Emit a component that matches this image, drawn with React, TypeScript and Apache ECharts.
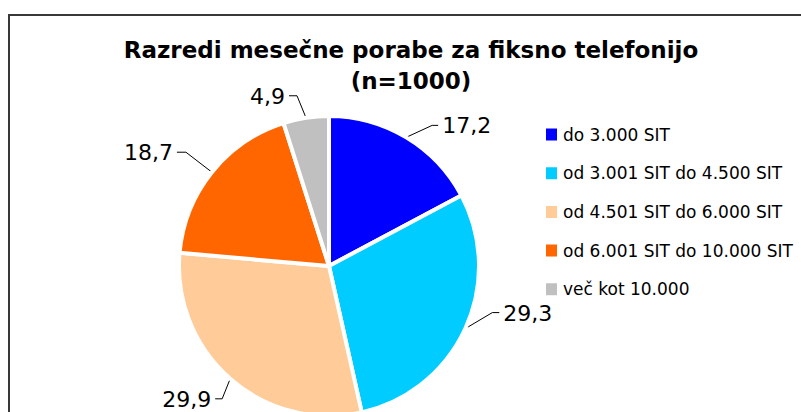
import React, { useEffect, useRef } from "react";
import * as echarts from "echarts";

const categories = [
  "do 3.000 SIT",
  "od 3.001 SIT do 4.500 SIT",
  "od 4.501 SIT do 6.000 SIT",
  "od 6.001 SIT do 10.000 SIT",
  "več kot 10.000",
];
const values = [17.2, 29.3, 29.9, 18.7, 4.9];
const colors = ["#0000FF", "#00CCFF", "#FFCC99", "#FF6600", "#C0C0C0"];
const titleLine1 = "Razredi mesečne porabe za fiksno telefonijo";
const titleLine2 = "(n=1000)";

// leader line layout per slice: [diagonal dx, diagonal dy, horizontal length]
const leaderLayout: [number, number, number][] = [
  [26, -12, 6],
  [27, -16, 7],
  [-8, 20, -7],
  [-26, -20, -9],
  [-9, -22, -8],
];
const labelGap = 4;

export default function App() {
  const ref = useRef<HTMLDivElement>(null);
  useEffect(() => {
    if (!ref.current) return;
    const chart = echarts.init(ref.current, undefined, { renderer: "svg" });
    chart.setOption({
      animation: false,
      backgroundColor: "#ffffff",
      title: {
        text: titleLine1 + "\n" + titleLine2,
        left: 411,
        textAlign: "center",
        top: 34,
        padding: 0,
        textStyle: {
          fontFamily: "'DejaVu Sans', Verdana, sans-serif",
          fontWeight: "bold",
          fontSize: 23,
          lineHeight: 31,
          color: "#000",
        },
      },
      graphic: [
        {
          type: "polyline",
          shape: { points: [[9, 412], [9, 15], [801, 15]] },
          style: { stroke: "#383838", lineWidth: 2, fill: "none" },
        },
      ],
      legend: {
        orient: "vertical",
        left: 544,
        top: 126,
        padding: 0,
        itemWidth: 13,
        itemHeight: 14,
        itemGap: 21.7,
        icon: "rect",
        textStyle: {
          fontFamily: "'DejaVu Sans', Verdana, sans-serif",
          fontSize: 17,
          color: "#000",
        },
        data: categories,
      },
      series: [
        {
          type: "pie",
          center: [329, 266],
          radius: 150,
          startAngle: 90,
          clockwise: true,
          color: colors,
          itemStyle: { borderColor: "#fff", borderWidth: 4 },
          label: {
            show: true,
            position: "outside",
            formatter: (p: any) => String(p.value).replace(".", ","),
            fontFamily: "'DejaVu Sans', Verdana, sans-serif",
            fontSize: 22,
            color: "#000",
          },
          labelLine: {
            show: true,
            length: 20,
            length2: 7,
            lineStyle: { color: "#000", width: 1 },
          },
          labelLayout: (params: any) => {
            const pts = params.labelLinePoints;
            const cfg = leaderLayout[params.dataIndex];
            if (!pts || !cfg) return {};
            const p0 = pts[0];
            const bend = [p0[0] + cfg[0], p0[1] + cfg[1]];
            const end = [bend[0] + cfg[2], bend[1]];
            const right = cfg[2] >= 0;
            return {
              x: end[0] + (right ? labelGap : -labelGap),
              y: bend[1] + 0.5,
              align: right ? "left" : "right",
              verticalAlign: "middle",
              labelLinePoints: [p0, bend, end],
            };
          },
          emphasis: { disabled: true },
          data: categories.map((c, i) => ({ name: c, value: values[i] })),
        },
      ],
    });
    return () => chart.dispose();
  }, []);
  return (
    <div
      ref={ref}
      style={{ position: "absolute", left: 0, top: 0, width: 801, height: 412 }}
    />
  );
}
